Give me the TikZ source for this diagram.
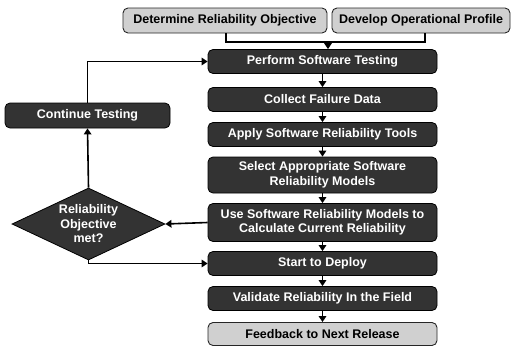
\documentclass[tikz,border=0pt]{standalone}
\usepackage{fontspec}
\setmainfont{Liberation Sans}
\usetikzlibrary{arrows.meta,shapes.geometric}
\definecolor{boxdark}{HTML}{333333}
\definecolor{boxlight}{HTML}{D0D0D0}
\begin{document}
\begin{tikzpicture}[x=1pt,y=-1pt,
  font=\fontsize{12.5}{14.5}\selectfont\bfseries,
  darkbox/.style={draw=black,line width=0.8pt,fill=boxdark,text=white,rounded corners=5pt,
    minimum width=229pt,minimum height=24pt,inner sep=0pt,align=center},
  lightbox/.style={draw=black!85,line width=0.9pt,fill=boxlight,text=black,rounded corners=5pt,
    minimum height=25pt,inner sep=0pt,align=center},
  decision/.style={diamond,draw=black,line width=0.8pt,fill=boxdark,text=white,
    minimum width=153pt,minimum height=72pt,inner sep=0pt,aspect=2.1,align=center},
  link/.style={draw=black,line width=1.6pt},
  flow/.style={link,-{Triangle[length=6pt,width=7.5pt]}}]
\useasboundingbox (0,0) rectangle (515,349);

% inputs
\node[lightbox,minimum width=204pt] (det) at (225,20.5) {Determine Reliability Objective};
\node[lightbox,minimum width=178pt] (dev) at (421,20.5) {Develop Operational Profile};

% main process column
\node[darkbox] (perform) at (322.5,61.5) {Perform Software Testing};
\node[darkbox] (collect) at (322.5,99.5) {Collect Failure Data};
\node[darkbox] (apply) at (322.5,134.5) {Apply Software Reliability Tools};
\node[darkbox,minimum height=36pt] (select) at (322.5,175) {Select Appropriate Software\\Reliability Models};
\node[darkbox,minimum height=38pt] (use) at (322.5,222.5) {Use Software Reliability Models to\\Calculate Current Reliability};
\node[darkbox] (deploy) at (322.5,263.5) {Start to Deploy};
\node[darkbox] (validate) at (322.5,298.5) {Validate Reliability In the Field};
\node[lightbox,minimum width=229pt,minimum height=23pt] (feedback) at (322.5,334) {Feedback to Next Release};

% feedback loop
\node[darkbox,minimum width=165pt,minimum height=25pt] (cont) at (87.5,115.5) {Continue Testing};
\node[decision] (met) at (88.5,224) {Reliability\\Objective\\met?};

% joining the two inputs
\coordinate (join) at (328,42);
\draw[link] (det.south -| 226,0) |- (join) -| (dev.south -| 425,0);
\draw[flow] (join) -- (join |- perform.north);

\draw[flow] (perform) -- (collect);
\draw[flow] (collect) -- (apply);
\draw[flow] (apply) -- (select);
\draw[flow] (select) -- (use);
\draw[flow] (use) -- (deploy);
\draw[flow] (deploy) -- (validate);
\draw[flow] (validate) -- (feedback);

\draw[flow] (use.west) -- (met.east);
\draw[flow] (met.north) -- (cont.south);
\draw[flow] (cont.north) |- (perform.west);
\draw[flow] (met.south) |- (deploy.west);
\end{tikzpicture}
\end{document}
